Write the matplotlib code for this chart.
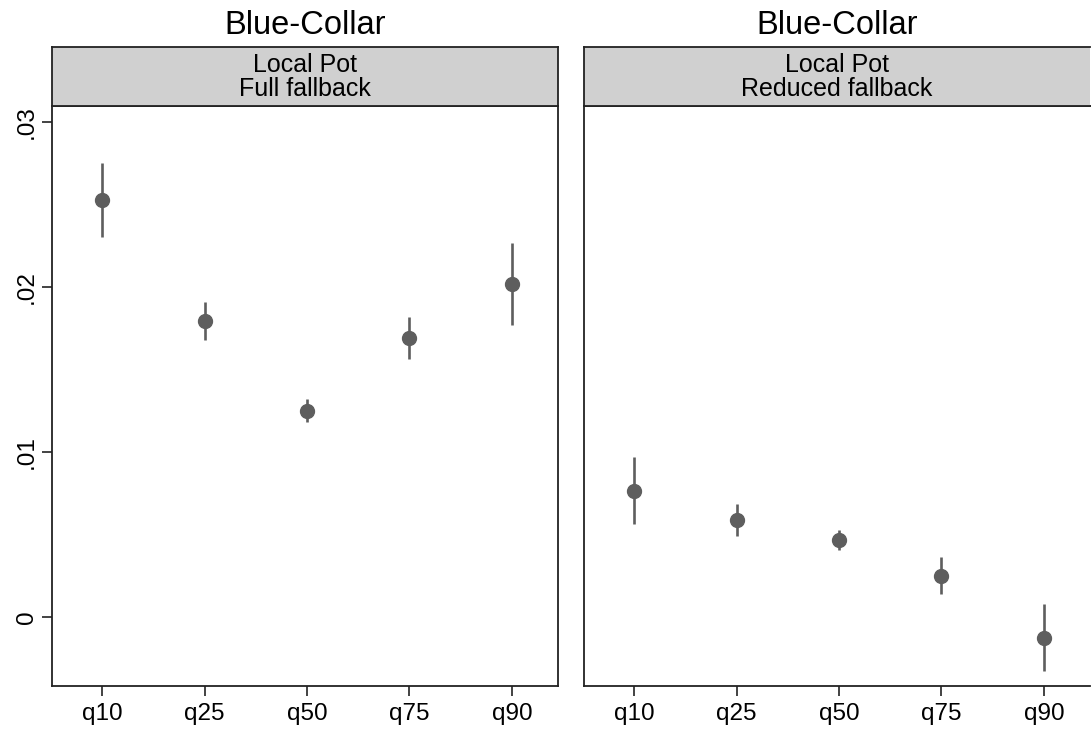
import matplotlib.pyplot as plt
from matplotlib.ticker import FixedLocator

plt.rcParams['font.family'] = ['Liberation Sans', 'DejaVu Sans']

quantiles = ['q10', 'q25', 'q50', 'q75', 'q90']
titles = ['Blue-Collar', 'Blue-Collar']
headers = ['Local Pot\nFull fallback', 'Local Pot\nReduced fallback']

full_est = [0.02527, 0.01794, 0.01250, 0.01694, 0.02018]
full_lo = [0.02303, 0.01681, 0.01182, 0.01563, 0.01772]
full_hi = [0.02752, 0.01907, 0.01323, 0.01817, 0.02267]

red_est = [0.00764, 0.00588, 0.00467, 0.00248, -0.00127]
red_lo = [0.00564, 0.00491, 0.00406, 0.00139, -0.00327]
red_hi = [0.00970, 0.00685, 0.00527, 0.00364, 0.00079]

yticks = [0.0, 0.01, 0.02, 0.03]
ytick_labels = ['0', '.01', '.02', '.03']

panels = [(full_est, full_lo, full_hi), (red_est, red_lo, red_hi)]
col = '#5e5e5e'

fig = plt.figure(figsize=(10.92, 7.31), dpi=100)
lefts = [52/1092, 584/1092]
w = 506/1092
bottom = 1 - 686/731
h = 580/731

for i, (est, lo, hi) in enumerate(panels):
    ax = fig.add_axes([lefts[i], bottom, w, h])
    x = list(range(1, len(quantiles) + 1))
    ax.vlines(x, lo, hi, color=col, lw=1.9, zorder=2)
    ax.plot(x, est, 'o', color=col, ms=10, zorder=3)
    ax.set_xlim(0.51, 5.45)
    ax.set_ylim(-0.00418, 0.03097)
    ax.set_xticks(x)
    ax.set_xticklabels(quantiles, fontsize=17.5)
    ax.yaxis.set_major_locator(FixedLocator(yticks))
    if i == 0:
        ax.set_yticklabels(ytick_labels, fontsize=17.5, rotation=90, va='center')
    else:
        ax.tick_params(axis='y', left=False, labelleft=False)
    ax.tick_params(axis='both', direction='out', length=7, width=1.2, colors='#222222', labelcolor='black')
    ax.tick_params(axis='x', pad=5)
    ax.tick_params(axis='y', pad=3)
    for s in ax.spines.values():
        s.set_linewidth(1.3)
        s.set_color('#222222')
    if i == 1:
        ax.spines['right'].set_visible(False)

    hax = fig.add_axes([lefts[i], 1 - 106/731, w, 59/731])
    hax.set_facecolor('#d0d0d0')
    hax.set_xticks([])
    hax.set_yticks([])
    for s in hax.spines.values():
        s.set_linewidth(1.3)
        s.set_color('#222222')
    if i == 1:
        hax.spines['right'].set_visible(False)
    hax.text(0.5, 0.5, headers[i], ha='center', va='center', fontsize=18,
             linespacing=1.0, transform=hax.transAxes)
    fig.text(lefts[i] + w/2, 1 - 26/731, titles[i], ha='center', va='center', fontsize=23.5)

fig.savefig('out.png', dpi=100)
